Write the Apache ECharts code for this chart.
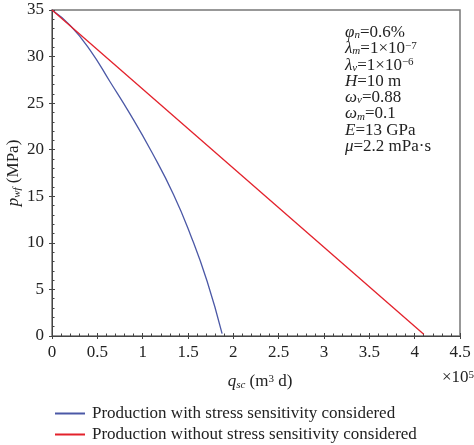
<!DOCTYPE html>
<html>
<head>
<meta charset="utf-8">
<script src="https://cdn.jsdelivr.net/npm/echarts@6/dist/echarts.min.js"></script>
<style>
  html, body { margin: 0; padding: 0; background: #fff; }
  #chart { width: 474px; height: 445px; }
</style>
</head>
<body>
<div id="chart"></div>
<script>
// q_sc (x1e5 m3/d) vs p_wf (MPa)
var withStress = [
    [0, 35], [0.2, 33.35], [0.42, 30.7], [0.64, 27.3], [0.86, 23.85],
    [1.1, 19.75], [1.34, 15.2], [1.53, 10.8], [1.71, 5.9], [1.876, 0.25]
];
var withoutStress = [[0, 35], [4.1, 0.2]];
var seriesNames = [
    'Production with stress sensitivity considered',
    'Production without stress sensitivity considered'
];
var paramLines = [
    '{i|φ}{s|n}{t|=0.6%}',
    '{i|λ}{s|m}{t|=1×10}{p|−7}',
    '{i|λ}{s|v}{t|=1×10}{p|−6}',
    '{i|H}{t|=10 m}',
    '{i|ω}{s|v}{t|=0.88}',
    '{i|ω}{s|m}{t|=0.1}',
    '{i|E}{t|=13 GPa}',
    '{i|μ}{t|=2.2 mPa·s}'
];

var serif = 'Liberation Serif';
var chart = echarts.init(document.getElementById('chart'));

var richText = {
    i: { fontFamily: serif, fontStyle: 'italic', fontSize: 17, lineHeight: 16.3, verticalAlign: 'middle' },
    t: { fontFamily: serif, fontSize: 17, lineHeight: 16.3, verticalAlign: 'middle' },
    s: { fontFamily: serif, fontStyle: 'italic', fontSize: 11, lineHeight: 8, verticalAlign: 'bottom' },
    p: { fontFamily: serif, fontSize: 11, lineHeight: 10, verticalAlign: 'top' }
};

function legendAt(name, top) {
    return {
        orient: 'horizontal', left: 50, top: top,
        itemWidth: 30, itemHeight: 2, icon: 'rect',
        textStyle: { fontFamily: serif, fontSize: 17, color: '#222', padding: [0, 0, 0, 2] },
        data: [name]
    };
}

var option = {
    animation: false,
    grid: {
        left: 52, top: 10, right: 14, bottom: 109,
        show: true, borderColor: '#777', borderWidth: 1.5
    },
    xAxis: [{
        type: 'value', min: 0, max: 4.5, interval: 0.5,
        axisLine: { show: true, lineStyle: { color: '#444', width: 1 } },
        axisTick: { show: true, inside: true, length: 3, lineStyle: { color: '#444' } },
        minorTick: { show: true, splitNumber: 5, length: 2.5, lineStyle: { color: '#444' } },
        splitLine: { show: false },
        axisLabel: { color: '#222', fontFamily: serif, fontSize: 17, margin: 8 }
    }, {
        type: 'value', min: 0, max: 4.5, interval: 0.5, position: 'bottom',
        axisLine: { show: false },
        axisTick: { show: true, inside: false, length: 3, lineStyle: { color: '#444' } },
        axisLabel: { show: false },
        splitLine: { show: false }
    }],
    yAxis: [{
        type: 'value', min: 0, max: 35, interval: 5,
        axisLine: { show: true, lineStyle: { color: '#444', width: 1 } },
        axisTick: { show: true, inside: true, length: 3, lineStyle: { color: '#444' } },
        minorTick: { show: true, splitNumber: 5, length: 2.5, lineStyle: { color: '#444' } },
        splitLine: { show: false },
        axisLabel: { color: '#222', fontFamily: serif, fontSize: 17, margin: 8 }
    }, {
        type: 'value', min: 0, max: 35, interval: 5, position: 'left',
        axisLine: { show: false },
        axisTick: { show: true, inside: false, length: 3, lineStyle: { color: '#444' } },
        axisLabel: { show: false },
        splitLine: { show: false }
    }],
    legend: [legendAt(seriesNames[0], 400), legendAt(seriesNames[1], 421)],
    graphic: [{
        type: 'text', left: 345, top: 24,
        style: { text: paramLines.join('\n'), rich: richText, fill: '#222' }
    }, {
        type: 'text', x: 14, y: 173, rotation: Math.PI / 2, originX: 0, originY: 0,
        style: {
            text: '{i|p}{s|wf}{t| (MPa)}', rich: richText, fill: '#222',
            align: 'center', verticalAlign: 'middle'
        }
    }, {
        type: 'text', x: 260, y: 382,
        style: {
            text: '{i|q}{s|sc}{t| (m}{p|3}{t| d)}', rich: richText, fill: '#222',
            align: 'center', verticalAlign: 'middle'
        }
    }, {
        type: 'text', x: 442, y: 378,
        style: {
            text: '{t|×10}{p|5}', rich: richText, fill: '#222',
            align: 'left', verticalAlign: 'middle'
        }
    }],
    series: [{
        name: seriesNames[0], type: 'line', data: withStress,
        smooth: 0.5, showSymbol: false,
        lineStyle: { color: '#4b58a6', width: 1.3 },
        itemStyle: { color: '#4b58a6' }
    }, {
        name: seriesNames[1], type: 'line', data: withoutStress,
        showSymbol: false,
        lineStyle: { color: '#e3212b', width: 1.3 },
        itemStyle: { color: '#e3212b' }
    }]
};

chart.setOption(option);
</script>
</body>
</html>
